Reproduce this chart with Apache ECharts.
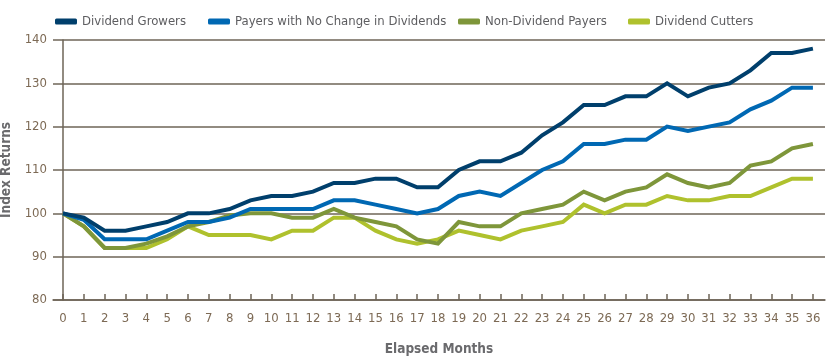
<!DOCTYPE html>
<html><head><meta charset="utf-8">
<script src="https://cdn.jsdelivr.net/npm/echarts@6/dist/echarts.min.js"></script>
<style>html,body{margin:0;padding:0;background:#fff}#c{width:834px;height:362px}</style>
</head><body><div id="c"></div>
<script>
var months = [];
for (var i = 0; i <= 36; i++) months.push(i);
var seriesNames = ["Dividend Growers", "Payers with No Change in Dividends", "Non-Dividend Payers", "Dividend Cutters"];
var growers = [100,99,96,96,97,98,100,100,101,103,104,104,105,107,107,108,108,106,106,110,112,112,114,118,121,125,125,127,127,130,127,129,130,133,137,137,138];
var payersNoChange = [100,98.5,94,94,94,96,98,98,99,101,101,101,101,103,103,102,101,100,101,104,105,104,107,110,112,116,116,117,117,120,119,120,121,124,126,129,129];
var nonPayers = [100,97,92,92,93,94.7,97,98,99.5,100,100,99,99,101,99,98,97,94,93,98,97,97,100,101,102,105,103,105,106,109,107,106,107,111,112,115,116];
var cutters = [100,97,92,92,92,94,97,95,95,95,94,96,96,99,99,96,94,93,94,96,95,94,96,97,98,102,100,102,102,104,103,103,104,104,106,108,108];
var yTicks = [80,90,100,110,120,130,140];

var colors = ["#003f6c", "#0068b3", "#7e963a", "#afc12d"];
var allData = [growers, payersNoChange, nonPayers, cutters];
var font = "'DejaVu Sans Condensed', 'Liberation Sans Narrow', sans-serif";

var series = allData.map(function (d, k) {
  return {
    name: seriesNames[k], type: 'line', data: months.map(function (m, j) { return [m, d[j]]; }),
    symbol: 'none', lineStyle: { width: 4, color: colors[k], join: 'miter' }, itemStyle: { color: colors[k] },
    z: 10 - k
  };
});

var legendLefts = [50, 203, 453, 623];
var legends = seriesNames.map(function (n, k) {
  return {
    data: [{ name: n, icon: 'roundRect' }], left: legendLefts[k], top: 10, itemWidth: 22, itemHeight: 6, itemGap: 6,
    textStyle: { fontFamily: font, fontSize: 13, color: '#5d5d60' }
  };
});

var chart = echarts.init(document.getElementById('c'), null, { renderer: 'canvas' });
chart.setOption({
  animation: false,
  color: colors,
  legend: legends,
  grid: { left: 53, right: 9, top: 40, bottom: 62, containLabel: false, outerBoundsMode: 'none' },
  xAxis: {
    type: 'value', min: -0.48, max: 36.58,
    name: 'Elapsed Months', nameLocation: 'middle', nameGap: 42,
    nameTextStyle: { fontFamily: font, fontSize: 13.5, fontWeight: 'bold', color: '#6a6a6d' },
    axisLine: { show: true, lineStyle: { color: '#6e6457', width: 1.5 } },
    axisTick: { show: true, inside: true, length: 6, customValues: months, lineStyle: { color: '#6e6457', width: 1.5 } },
    axisLabel: { customValues: months, fontFamily: font, fontSize: 13, color: '#7d6a55', margin: 12, formatter: function (v) { return String(v); } },
    splitLine: { show: false }
  },
  yAxis: {
    type: 'value', min: 80, max: 140, interval: 10,
    name: 'Index Returns', nameLocation: 'middle', nameGap: 29, nameRotate: 90,
    nameTextStyle: { fontFamily: font, fontSize: 13.5, fontWeight: 'bold', color: '#6a6a6d' },
    axisLine: { show: true, lineStyle: { color: '#6e6457', width: 1.5 } },
    axisTick: { show: false },
    axisLabel: { fontFamily: font, fontSize: 13, color: '#7d6a55', margin: 6,
      formatter: function (v) { return yTicks.indexOf(v) >= 0 ? String(v) : ''; } },
    splitLine: { show: true, lineStyle: { color: '#6e6457', width: 1.5 } }
  },
  series: series
});
</script></body></html>
